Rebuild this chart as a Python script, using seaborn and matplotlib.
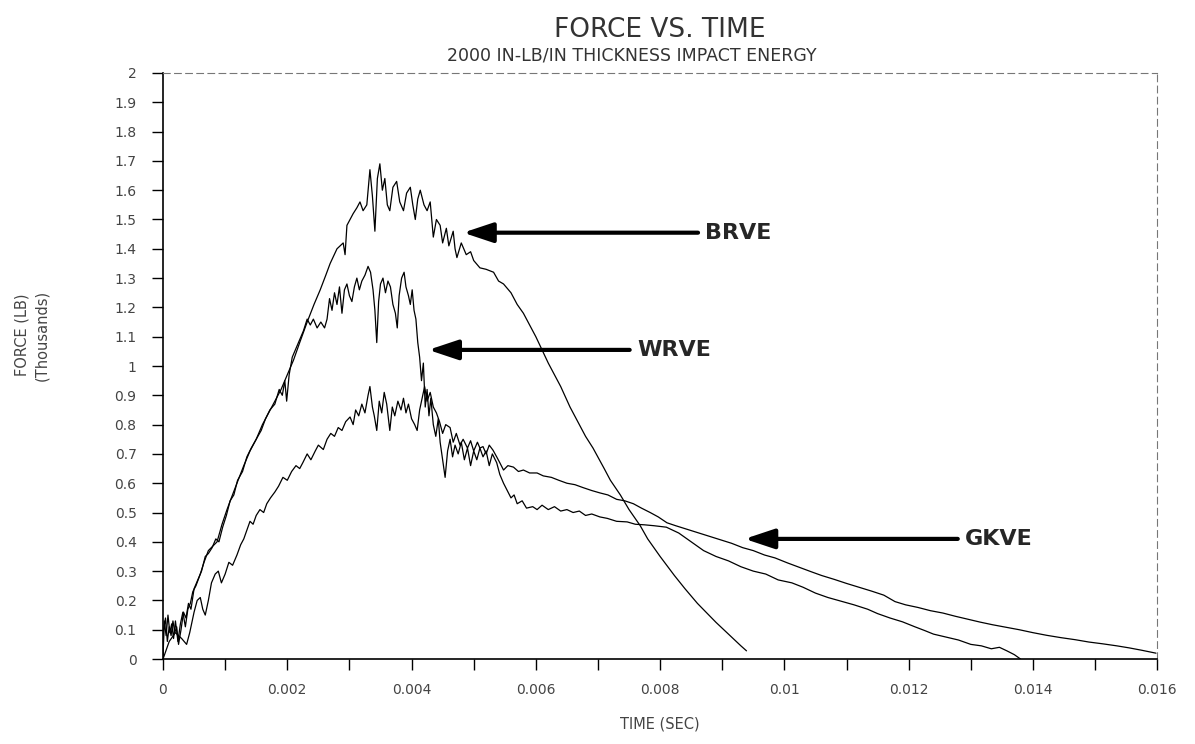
import matplotlib
matplotlib.use("Agg")
import matplotlib.pyplot as plt
import pandas as pd
import seaborn as sns

brve_t = [0, 0.00002, 0.00005, 0.00008, 0.00011, 0.00014, 0.00017, 0.0002, 0.00024, 0.00028,
          0.00032, 0.00036, 0.0004, 0.00044, 0.00048, 0.00053, 0.0006, 0.00066, 0.00073, 0.0008,
          0.00087, 0.00095, 0.00103, 0.0011, 0.00119, 0.0013, 0.0014, 0.0015, 0.0016, 0.0017,
          0.0018, 0.0019, 0.002, 0.0021, 0.0022, 0.00232, 0.00243, 0.00253, 0.00262, 0.00269,
          0.0028, 0.0029, 0.00293, 0.00296, 0.00306, 0.00312, 0.00317, 0.00322, 0.00328, 0.00333,
          0.00337, 0.00341, 0.00345, 0.00349, 0.00353, 0.00357, 0.00361, 0.00365, 0.0037, 0.00376,
          0.00381, 0.00387, 0.00392, 0.00398, 0.00402, 0.00406, 0.0041, 0.00414, 0.0042, 0.00425,
          0.0043, 0.00435, 0.0044, 0.00446, 0.0045, 0.00456, 0.0046, 0.00467, 0.0047, 0.00473,
          0.0048, 0.00488, 0.00495, 0.005, 0.0051, 0.0052, 0.00532, 0.0054, 0.00548, 0.0056,
          0.0057, 0.0058, 0.0059, 0.006, 0.0061, 0.0062, 0.0063, 0.0064, 0.00655, 0.0067,
          0.0068, 0.00692, 0.0071, 0.0072, 0.00736, 0.0075, 0.00768, 0.0078, 0.008, 0.00823,
          0.0084, 0.0086, 0.0089, 0.0091, 0.0093, 0.00939]
brve_f = [0.0, 0.13, 0.08, 0.15, 0.09, 0.12, 0.07, 0.13, 0.06, 0.12,
          0.16, 0.11, 0.17, 0.19, 0.23, 0.25, 0.29, 0.33, 0.37, 0.385,
          0.40, 0.46, 0.51, 0.55, 0.60, 0.66, 0.71, 0.75, 0.80, 0.84,
          0.88, 0.92, 0.97, 1.02, 1.08, 1.15, 1.21, 1.26, 1.31, 1.35,
          1.40, 1.42, 1.38, 1.48, 1.52, 1.54, 1.56, 1.53, 1.55, 1.67,
          1.58, 1.46, 1.64, 1.69, 1.60, 1.64, 1.55, 1.53, 1.61, 1.63,
          1.56, 1.53, 1.59, 1.61, 1.55, 1.50, 1.57, 1.60, 1.55, 1.53,
          1.56, 1.44, 1.50, 1.48, 1.42, 1.47, 1.41, 1.46, 1.40, 1.37,
          1.42, 1.38, 1.39, 1.36, 1.335, 1.33, 1.32, 1.29, 1.28, 1.25,
          1.21, 1.18, 1.14, 1.10, 1.055, 1.01, 0.97, 0.93, 0.86, 0.80,
          0.76, 0.72, 0.65, 0.61, 0.56, 0.51, 0.455, 0.41, 0.35, 0.285,
          0.24, 0.19, 0.125, 0.085, 0.045, 0.028]

wrve_t = [0, 0.00001, 0.00004, 0.00007, 0.0001, 0.00013, 0.00016, 0.00019, 0.00022, 0.00025,
          0.00029, 0.00033, 0.00037, 0.00041, 0.00045, 0.0005, 0.00056, 0.00062, 0.00068, 0.00073,
          0.00079, 0.00085, 0.0009, 0.00096, 0.00102, 0.00108, 0.00114, 0.0012, 0.00128, 0.00135,
          0.00142, 0.0015, 0.00158, 0.00165, 0.00172, 0.0018, 0.00187, 0.00192, 0.00196, 0.00199,
          0.00203, 0.00208, 0.00214, 0.0022, 0.00226, 0.00232, 0.00237, 0.00242, 0.00248, 0.00254,
          0.0026, 0.00264, 0.00268, 0.00272, 0.00276, 0.0028, 0.00284, 0.00288, 0.00292, 0.00296,
          0.003, 0.00304, 0.00308, 0.00312, 0.00316, 0.0032, 0.00325, 0.0033, 0.00334, 0.00338,
          0.00341, 0.00344, 0.00347, 0.0035, 0.00354, 0.00358, 0.00362, 0.00366, 0.0037, 0.00374,
          0.00377, 0.0038, 0.00384, 0.00388, 0.00391, 0.00395, 0.00398, 0.00401, 0.00404, 0.00407,
          0.0041, 0.00413, 0.00416, 0.00419, 0.00422, 0.00425, 0.00428, 0.00431, 0.00435, 0.00439,
          0.00443, 0.00446, 0.0045, 0.00454, 0.00458, 0.00462, 0.00466, 0.0047, 0.00475, 0.0048,
          0.00485, 0.0049, 0.00495, 0.005, 0.00505, 0.0051, 0.00515, 0.0052, 0.00525, 0.0053,
          0.00537, 0.00542, 0.00548, 0.00554, 0.0056, 0.00565, 0.0057, 0.00578, 0.00585, 0.00595,
          0.00602, 0.0061, 0.0062, 0.0063, 0.0064, 0.0065, 0.0066, 0.0067, 0.0068, 0.0069,
          0.00703, 0.00715, 0.0073, 0.00747, 0.0076, 0.00775, 0.0079, 0.0081, 0.0083, 0.0085,
          0.0087, 0.0089, 0.0091, 0.0093, 0.0095, 0.0097, 0.0099, 0.01012, 0.0103, 0.0105,
          0.0107, 0.0109, 0.01112, 0.01134, 0.0115, 0.0117, 0.0119, 0.0121, 0.01226, 0.0124,
          0.0126, 0.0128, 0.013, 0.01317, 0.01333, 0.01346, 0.01358, 0.0137, 0.0138]
wrve_f = [0.0, 0.10, 0.14, 0.06, 0.11, 0.08, 0.13, 0.09, 0.11, 0.05,
          0.10, 0.16, 0.14, 0.19, 0.17, 0.24, 0.27, 0.30, 0.35, 0.36,
          0.38, 0.41, 0.40, 0.45, 0.49, 0.54, 0.56, 0.61, 0.64, 0.69,
          0.72, 0.75, 0.78, 0.82, 0.85, 0.87, 0.92, 0.90, 0.95, 0.88,
          0.97, 1.03, 1.06, 1.09, 1.12, 1.16, 1.14, 1.16, 1.13, 1.15,
          1.13, 1.16, 1.23, 1.19, 1.25, 1.21, 1.27, 1.18, 1.26, 1.28,
          1.24, 1.22, 1.27, 1.30, 1.26, 1.29, 1.31, 1.34, 1.32, 1.26,
          1.19, 1.08, 1.22, 1.28, 1.30, 1.25, 1.29, 1.27, 1.21, 1.18,
          1.13, 1.24, 1.30, 1.32, 1.27, 1.24, 1.21, 1.26, 1.19, 1.16,
          1.08, 1.03, 0.95, 1.01, 0.86, 0.92, 0.83, 0.89, 0.80, 0.76,
          0.82, 0.74, 0.68, 0.62, 0.71, 0.75, 0.69, 0.73, 0.70, 0.74,
          0.68, 0.72, 0.66, 0.71, 0.68, 0.72, 0.69, 0.71, 0.66, 0.70,
          0.67, 0.63, 0.60, 0.575, 0.55, 0.56, 0.53, 0.54, 0.515, 0.52,
          0.51, 0.525, 0.51, 0.52, 0.505, 0.51, 0.50, 0.505, 0.49, 0.495,
          0.485, 0.48, 0.47, 0.468, 0.46, 0.458, 0.455, 0.45, 0.43, 0.40,
          0.37, 0.35, 0.335, 0.315, 0.30, 0.29, 0.27, 0.26, 0.245, 0.225,
          0.21, 0.198, 0.185, 0.17, 0.155, 0.14, 0.127, 0.11, 0.097, 0.085,
          0.075, 0.065, 0.05, 0.045, 0.035, 0.04, 0.028, 0.015, 0.0]

gkve_t = [0, 0.0001, 0.0002, 0.0003, 0.00038, 0.00043, 0.0005, 0.00055, 0.0006, 0.00064,
          0.00068, 0.00073, 0.00078, 0.00084, 0.00089, 0.00094, 0.001, 0.00106, 0.00112, 0.00119,
          0.00125, 0.0013, 0.00135, 0.0014, 0.00145, 0.0015, 0.00156, 0.00162, 0.00167, 0.00173,
          0.0018, 0.00186, 0.00193, 0.002, 0.00207, 0.00214, 0.0022, 0.00225, 0.00232, 0.00238,
          0.00245, 0.0025, 0.00258, 0.00264, 0.0027, 0.00276, 0.00282, 0.00288, 0.00294, 0.00301,
          0.00306, 0.0031, 0.00315, 0.0032, 0.00325, 0.0033, 0.00333, 0.00337, 0.0034, 0.00344,
          0.00348, 0.00352, 0.00356, 0.0036, 0.00365, 0.00369, 0.00373, 0.00378, 0.00383, 0.00387,
          0.00391, 0.00395, 0.004, 0.00405, 0.00409, 0.00413, 0.00417, 0.00421, 0.00425, 0.0043,
          0.00435, 0.0044, 0.00445, 0.0045, 0.00455, 0.00462, 0.00467, 0.00472, 0.00478, 0.00483,
          0.0049, 0.00495, 0.005, 0.00506, 0.0051, 0.00515, 0.0052, 0.00525, 0.00531, 0.00537,
          0.00542, 0.00548, 0.00555, 0.00564, 0.00572, 0.0058, 0.0059, 0.00602, 0.00612, 0.00625,
          0.00637, 0.0065, 0.00663, 0.00676, 0.0069, 0.00703, 0.00716, 0.0073, 0.00743, 0.00757,
          0.0077, 0.00784, 0.00797, 0.00811, 0.00825, 0.0084, 0.00855, 0.0087, 0.00885, 0.009,
          0.00915, 0.00933, 0.0095, 0.00968, 0.00985, 0.01005, 0.01025, 0.01043, 0.0106, 0.0108,
          0.011, 0.0112, 0.0114, 0.0116, 0.01178, 0.01195, 0.01215, 0.01235, 0.01255, 0.01275,
          0.01295, 0.01315, 0.01335, 0.01355, 0.01378, 0.014, 0.01422, 0.01445, 0.01468, 0.0149,
          0.01512, 0.01535, 0.01555, 0.01575, 0.01598]
gkve_f = [0.0, 0.06, 0.09, 0.07, 0.05, 0.09, 0.16, 0.20, 0.21, 0.17,
          0.15, 0.20, 0.26, 0.29, 0.30, 0.26, 0.29, 0.33, 0.32, 0.355,
          0.39, 0.41, 0.44, 0.47, 0.46, 0.49, 0.51, 0.50, 0.53, 0.55,
          0.57, 0.59, 0.62, 0.61, 0.64, 0.66, 0.65, 0.67, 0.70, 0.68,
          0.71, 0.73, 0.715, 0.75, 0.77, 0.76, 0.79, 0.78, 0.81, 0.826,
          0.80, 0.85, 0.83, 0.87, 0.84, 0.90, 0.93, 0.86, 0.83, 0.78,
          0.88, 0.84, 0.91, 0.87, 0.78, 0.86, 0.83, 0.88, 0.85, 0.89,
          0.84, 0.87, 0.82, 0.80, 0.78, 0.85, 0.89, 0.93, 0.88, 0.91,
          0.86, 0.84, 0.81, 0.77, 0.80, 0.79, 0.74, 0.77, 0.73, 0.75,
          0.72, 0.745, 0.71, 0.74, 0.72, 0.725, 0.70, 0.73, 0.713, 0.69,
          0.67, 0.645, 0.66, 0.655, 0.64, 0.645, 0.635, 0.635, 0.625, 0.62,
          0.61, 0.60, 0.595, 0.585, 0.575, 0.567, 0.56, 0.545, 0.54, 0.53,
          0.515, 0.50, 0.485, 0.465, 0.455, 0.445, 0.435, 0.425, 0.415, 0.405,
          0.395, 0.38, 0.37, 0.355, 0.345, 0.328, 0.312, 0.298, 0.285, 0.272,
          0.258, 0.245, 0.232, 0.218, 0.196, 0.185, 0.176, 0.165, 0.157, 0.146,
          0.136, 0.126, 0.117, 0.109, 0.10, 0.09, 0.081, 0.073, 0.066, 0.058,
          0.052, 0.045, 0.038, 0.03, 0.02]

specimens = ["BRVE", "WRVE", "GKVE"]

x_ticks = [0, 0.002, 0.004, 0.006, 0.008, 0.010, 0.012, 0.014, 0.016]
x_tick_labels = ["0", "0.002", "0.004", "0.006", "0.008", "0.01", "0.012", "0.014", "0.016"]
x_minor = [0.001, 0.003, 0.005, 0.007, 0.009, 0.011, 0.013, 0.015]
y_ticks = [0, 0.1, 0.2, 0.3, 0.4, 0.5, 0.6, 0.7, 0.8, 0.9, 1.0,
           1.1, 1.2, 1.3, 1.4, 1.5, 1.6, 1.7, 1.8, 1.9, 2.0]
y_tick_labels = ["0", "0.1", "0.2", "0.3", "0.4", "0.5", "0.6", "0.7", "0.8", "0.9", "1",
                 "1.1", "1.2", "1.3", "1.4", "1.5", "1.6", "1.7", "1.8", "1.9", "2"]

# === long-form table ===
df = pd.concat([
    pd.DataFrame({"time": brve_t, "force": brve_f, "specimen": "BRVE"}),
    pd.DataFrame({"time": wrve_t, "force": wrve_f, "specimen": "WRVE"}),
    pd.DataFrame({"time": gkve_t, "force": gkve_f, "specimen": "GKVE"}),
], ignore_index=True)

sns.set_theme(style="white")
plt.rcParams["font.family"] = ["DejaVu Sans"]

fig = plt.figure(figsize=(11.95, 7.44), dpi=100)
ax = fig.add_axes([0.1364, 0.1142, 0.832, 0.7877])

sns.lineplot(data=df, x="time", y="force", hue="specimen", hue_order=specimens,
             palette={s: "black" for s in specimens}, estimator=None, sort=False,
             linewidth=0.9, legend=False, ax=ax)

ax.set_xlim(0, 0.016)
ax.set_ylim(0, 2)
ax.set_xticks(x_ticks, x_tick_labels)
ax.set_xticks(x_minor, minor=True)
ax.set_yticks(y_ticks, y_tick_labels)
ax.tick_params(axis="both", which="both", direction="out", length=8, width=1,
               color="black", labelsize=10, labelcolor="#444444",
               bottom=True, left=True, top=False, right=False)
ax.tick_params(axis="x", which="both", pad=9)
ax.tick_params(axis="y", pad=11)
ax.set_xlabel("")
ax.set_ylabel("")

for side in ["top", "right"]:
    ax.spines[side].set_linestyle((0, (6, 4)))
    ax.spines[side].set_color("#777777")
    ax.spines[side].set_linewidth(0.8)
for side in ["left", "bottom"]:
    ax.spines[side].set_color("black")
    ax.spines[side].set_linewidth(1.2)

# === titles / axis labels ===
fig.text(660 / 1195, 1 - 30 / 744, "FORCE VS. TIME", ha="center", va="center",
         fontsize=19, color="#333333")
fig.text(632 / 1195, 1 - 55 / 744, "2000 IN-LB/IN THICKNESS IMPACT ENERGY",
         ha="center", va="center", fontsize=12.5, color="#333333")
fig.text(32 / 1195, 1 - 335 / 744, "FORCE (LB)\n(Thousands)", rotation=90,
         ha="center", va="center", multialignment="center", fontsize=10.5,
         color="#444444", linespacing=1.4)
fig.text(660 / 1195, 1 - 724 / 744, "TIME (SEC)", ha="center", va="center",
         fontsize=10.5, color="#444444")

# === arrow labels ===
arrow = dict(arrowstyle="-|>,head_length=0.9,head_width=0.3", lw=3, color="black",
             mutation_scale=20, shrinkA=3, shrinkB=0)
ax.annotate("BRVE", xy=(0.00483, 1.455), xytext=(0.00873, 1.455), ha="left", va="center",
            fontsize=16, fontweight="bold", arrowprops=arrow)
ax.annotate("WRVE", xy=(0.00427, 1.055), xytext=(0.00763, 1.055), ha="left", va="center",
            fontsize=16, fontweight="bold", arrowprops=arrow)
ax.annotate("GKVE", xy=(0.00936, 0.41), xytext=(0.01291, 0.41), ha="left", va="center",
            fontsize=16, fontweight="bold", arrowprops=arrow)

fig.savefig("out.png", dpi=100)
